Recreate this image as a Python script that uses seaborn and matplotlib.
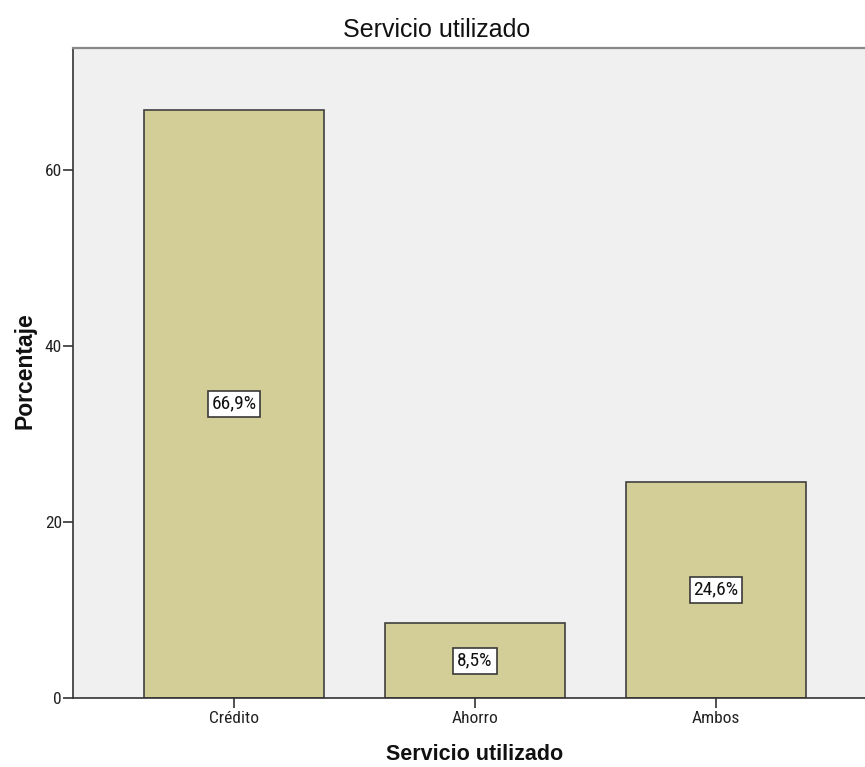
import matplotlib
matplotlib.use("Agg")
import matplotlib.pyplot as plt
import seaborn as sns
import pandas as pd

categorias = ["Crédito", "Ahorro", "Ambos"]
porcentajes = [66.9, 8.5, 24.6]
etiquetas = ["66,9%", "8,5%", "24,6%"]
ticks_y = [0, 20, 40, 60]

sns.set_theme(style="white")
plt.rcParams["font.family"] = ["Liberation Sans", "DejaVu Sans"]
NARROW = ["Roboto Condensed", "Liberation Sans", "DejaVu Sans"]

df = pd.DataFrame({"Servicio utilizado": categorias, "Porcentaje": porcentajes})

W, H = 865, 767
fig = plt.figure(figsize=(W / 100, H / 100), dpi=100)
ax = fig.add_axes([73 / W, 1 - 698 / H, 804 / W, 650 / H])
ax.set_facecolor("#F0F0F0")

sns.barplot(data=df, x="Servicio utilizado", y="Porcentaje", ax=ax,
            color="#D3CE98", saturation=1, width=0.747,
            edgecolor="#404040", linewidth=1.2)

# percentage labels in white boxes at mid-height of each bar
for i, (v, t) in enumerate(zip(porcentajes, etiquetas)):
    ax.text(i, v / 2, t, ha="center", va="center", fontsize=14, color="#111111",
            family=NARROW,
            bbox=dict(boxstyle="square,pad=0.2", facecolor="white",
                      edgecolor="#3A3A3A", linewidth=1.2))

ax.set_xlim(-0.668, 2.668)
ax.set_ylim(0, 73.9)
ax.set_yticks(ticks_y)
ax.set_yticklabels([str(t) for t in ticks_y], fontsize=12.5, color="#222222", family=NARROW)
ax.set_xticks(range(len(categorias)))
ax.set_xticklabels(categorias, fontsize=12.5, color="#222222", family=NARROW)
ax.tick_params(axis="y", direction="out", length=7, width=1.2, color="#333333",
               left=True, pad=1)
ax.tick_params(axis="x", direction="out", length=7, width=1.2, color="#333333",
               bottom=True, pad=2.5)

for side in ["left", "bottom"]:
    ax.spines[side].set_color("#333333")
    ax.spines[side].set_linewidth(1.2)
ax.spines["top"].set_color("#888888")
ax.spines["top"].set_linewidth(1.6)
ax.spines["right"].set_visible(False)

fig.text(436.5 / W, 1 - 37 / H, "Servicio utilizado", ha="center", va="baseline",
         fontsize=18, color="#111111")

ax.set_xlabel("Servicio utilizado", fontsize=15.5, fontweight="bold", color="#111111")
ax.xaxis.label.set_va("baseline")
ax.xaxis.set_label_coords(0.5, (698 - 760) / 650)

ax.set_ylabel("Porcentaje", fontsize=16.5, fontweight="bold", color="#111111")
ax.yaxis.label.set_va("baseline")
ax.yaxis.set_label_coords((31 - 73) / 804, (698 - 371) / 650)

fig.savefig("out.png", dpi=100)
